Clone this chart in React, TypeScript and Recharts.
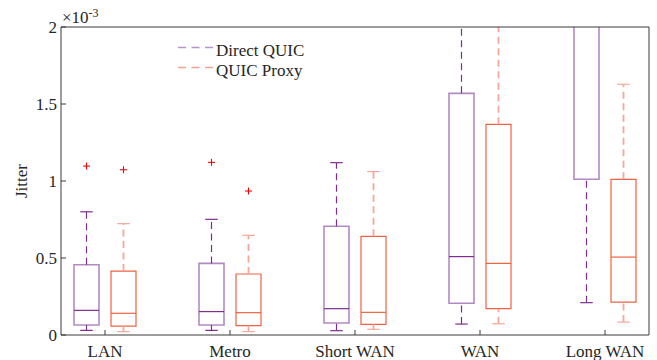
import React from 'react';
import {
  ComposedChart,
  XAxis,
  YAxis,
  Scatter,
  ReferenceArea,
  ReferenceLine,
  Legend,
} from 'recharts';

// Categories (network scenarios)
const categories = ['LAN', 'Metro', 'Short WAN', 'WAN', 'Long WAN'];

// Jitter box statistics, in units of 10^-3
const directLower = [0.03, 0.03, 0.028, 0.071, 0.21];
const directQ1 = [0.065, 0.065, 0.078, 0.206, 1.011];
const directMedian = [0.16, 0.152, 0.171, 0.509, 2.35];
const directQ3 = [0.456, 0.465, 0.706, 1.569, 2.7];
const directUpper = [0.8, 0.751, 1.119, 2.9, 3.4];

const proxyLower = [0.022, 0.022, 0.037, 0.073, 0.084];
const proxyQ1 = [0.058, 0.061, 0.069, 0.171, 0.214];
const proxyMedian = [0.141, 0.145, 0.147, 0.465, 0.506];
const proxyQ3 = [0.415, 0.396, 0.641, 1.368, 1.011];
const proxyUpper = [0.723, 0.647, 1.061, 2.6, 1.628];

const directOutliers: number[][] = [[1.097], [1.121], [], [], []];
const proxyOutliers: number[][] = [[1.073], [0.935], [], [], []];

const yTicks = [0, 0.5, 1, 1.5, 2];
const xTicks = [1, 2, 3, 4, 5];

const SERIES_DIRECT = 'Direct QUIC';
const SERIES_PROXY = 'QUIC Proxy';

// layout constants
const X_DOMAIN: [number, number] = [0.648, 5.352];
const GROUP_OFFSET = 0.148;
const BOX_HALF = 0.1;
const CAP_HALF = 0.05;

const FONT = "'Liberation Serif', serif";
const TEXT_COLOR = '#262626';
const AXIS_COLOR = '#3a3a3a';

const DIRECT_DARK = '#7E2F8E';
const DIRECT_BOX = '#B28AC2';
const PROXY_BOX = '#EE6242';
const PROXY_WHISK = '#F6A797';
const OUTLIER = '#FF0000';

const legendColors: Record<string, string> = {
  [SERIES_DIRECT]: '#B893C8',
  [SERIES_PROXY]: '#F7A290',
};

interface Stats {
  lower: number[];
  q1: number[];
  median: number[];
  q3: number[];
  upper: number[];
}

interface BoxStyle {
  box: string;
  boxWidth: number;
  median: string;
  whisker: string;
  whiskerWidth: number;
  cap: string;
  dash: string;
}

function boxElements(prefix: string, offset: number, s: Stats, st: BoxStyle) {
  const els: React.ReactNode[] = [];
  categories.forEach((_, i) => {
    const c = i + 1 + offset;
    els.push(
      <ReferenceLine
        key={`${prefix}-lw-${i}`}
        segment={[{ x: c, y: s.lower[i] }, { x: c, y: s.q1[i] }]}
        stroke={st.whisker}
        strokeWidth={st.whiskerWidth}
        strokeDasharray={st.dash}
        ifOverflow="hidden"
      />,
      <ReferenceLine
        key={`${prefix}-uw-${i}`}
        segment={[{ x: c, y: s.q3[i] }, { x: c, y: s.upper[i] }]}
        stroke={st.whisker}
        strokeWidth={st.whiskerWidth}
        strokeDasharray={st.dash}
        ifOverflow="hidden"
      />,
      <ReferenceLine
        key={`${prefix}-lc-${i}`}
        segment={[{ x: c - CAP_HALF, y: s.lower[i] }, { x: c + CAP_HALF, y: s.lower[i] }]}
        stroke={st.cap}
        strokeWidth={1.2}
        ifOverflow="hidden"
      />,
      <ReferenceLine
        key={`${prefix}-uc-${i}`}
        segment={[{ x: c - CAP_HALF, y: s.upper[i] }, { x: c + CAP_HALF, y: s.upper[i] }]}
        stroke={st.cap}
        strokeWidth={1.2}
        ifOverflow="hidden"
      />,
      <ReferenceArea
        key={`${prefix}-box-${i}`}
        x1={c - BOX_HALF}
        x2={c + BOX_HALF}
        y1={s.q1[i]}
        y2={s.q3[i]}
        fill="none"
        fillOpacity={0}
        stroke={st.box}
        strokeWidth={st.boxWidth}
        ifOverflow="hidden"
      />,
      <ReferenceLine
        key={`${prefix}-med-${i}`}
        segment={[{ x: c - BOX_HALF, y: s.median[i] }, { x: c + BOX_HALF, y: s.median[i] }]}
        stroke={st.median}
        strokeWidth={1.2}
        ifOverflow="hidden"
      />
    );
  });
  return els;
}

const directPoints = directOutliers.flatMap((vals, i) =>
  vals.map((v) => ({ x: i + 1 - GROUP_OFFSET, y: v }))
);
const proxyPoints = proxyOutliers.flatMap((vals, i) =>
  vals.map((v) => ({ x: i + 1 + GROUP_OFFSET, y: v }))
);

const PlusShape = (props: any) => {
  const { cx, cy } = props;
  if (cx == null || cy == null) return null;
  const h = 3.5;
  return (
    <g>
      <line x1={cx - h} x2={cx + h} y1={cy} y2={cy} stroke={OUTLIER} strokeWidth={1.1} />
      <line x1={cx} x2={cx} y1={cy - h} y2={cy + h} stroke={OUTLIER} strokeWidth={1.1} />
    </g>
  );
};

const renderLegend = (props: any) => {
  const payload: any[] = props?.payload ?? [];
  return (
    <svg width={150} height={52} style={{ display: 'block', overflow: 'visible' }}>
      {payload.map((entry, i) => (
        <g key={String(entry.value)}>
          <line
            x1={8}
            x2={43}
            y1={15.5 + i * 20}
            y2={15.5 + i * 20}
            stroke={legendColors[entry.value] ?? entry.color}
            strokeWidth={1.5}
            strokeDasharray="8 5.5"
          />
          <text
            x={46}
            y={23.5 + i * 20}
            fontSize={17}
            style={{ fontFamily: FONT }}
            fill={TEXT_COLOR}
          >
            {entry.value}
          </text>
        </g>
      ))}
    </svg>
  );
};

const JitterLabel = (props: any) => {
  const vb = props?.viewBox ?? { x: 0, y: 27, width: 61, height: 308 };
  const x = vb.x + 27;
  const y = vb.y + vb.height / 2;
  return (
    <text
      x={x}
      y={y}
      transform={`rotate(-90, ${x}, ${y})`}
      textAnchor="middle"
      fontSize={17}
      style={{ fontFamily: FONT }}
      fill={TEXT_COLOR}
    >
      Jitter
    </text>
  );
};

const ExponentLabel = (props: any) => {
  const vb = props?.viewBox ?? { x: 61, y: 26 };
  return (
    <text x={vb.x + 1} y={vb.y - 3} fontSize={17} style={{ fontFamily: FONT }} fill={TEXT_COLOR}>
      ×10
      <tspan dy={-6.5} fontSize={12}>
        -3
      </tspan>
    </text>
  );
};

export default function App() {
  const tickStyle = { fontSize: 17, fontFamily: FONT, fill: TEXT_COLOR, style: { fontFamily: FONT } };
  return (
    <div style={{ position: 'absolute', left: 0, top: 0, background: '#fff', fontFamily: FONT }}>
      <ComposedChart
        width={657}
        height={360}
        margin={{ top: 26, right: 7, left: 0, bottom: 0 }}
        style={{ fontFamily: FONT }}
      >
        <XAxis
          type="number"
          dataKey="x"
          domain={X_DOMAIN}
          ticks={xTicks}
          interval={0}
          allowDataOverflow
          tickFormatter={(v: number) => categories[Math.round(v) - 1] ?? ''}
          height={25}
          tickSize={-5}
          tickMargin={15}
          tick={tickStyle}
          stroke={AXIS_COLOR}
        />
        <XAxis
          xAxisId="top"
          orientation="top"
          type="number"
          domain={X_DOMAIN}
          ticks={xTicks}
          interval={0}
          allowDataOverflow
          height={1}
          tick={false}
          tickSize={-5}
          stroke={AXIS_COLOR}
          label={{ content: ExponentLabel }}
        />
        <YAxis
          type="number"
          dataKey="y"
          domain={[0, 2]}
          ticks={yTicks}
          interval={0}
          allowDataOverflow
          width={61}
          tickSize={-5}
          tickMargin={9}
          tick={tickStyle}
          stroke={AXIS_COLOR}
          label={{ content: JitterLabel }}
        />
        <YAxis
          yAxisId="right"
          orientation="right"
          type="number"
          domain={[0, 2]}
          ticks={yTicks}
          interval={0}
          allowDataOverflow
          width={1}
          tick={false}
          tickSize={-5}
          stroke={AXIS_COLOR}
        />

        {boxElements(
          'd',
          -GROUP_OFFSET,
          { lower: directLower, q1: directQ1, median: directMedian, q3: directQ3, upper: directUpper },
          {
            box: DIRECT_BOX,
            boxWidth: 1.6,
            median: DIRECT_DARK,
            whisker: DIRECT_DARK,
            whiskerWidth: 1.2,
            cap: DIRECT_DARK,
            dash: '7 4.5',
          }
        )}
        {boxElements(
          'p',
          GROUP_OFFSET,
          { lower: proxyLower, q1: proxyQ1, median: proxyMedian, q3: proxyQ3, upper: proxyUpper },
          {
            box: PROXY_BOX,
            boxWidth: 1.2,
            median: PROXY_BOX,
            whisker: PROXY_WHISK,
            whiskerWidth: 1.8,
            cap: PROXY_WHISK,
            dash: '7 4.5',
          }
        )}

        <Scatter
          name={SERIES_DIRECT}
          data={directPoints}
          shape={PlusShape}
          fill={OUTLIER}
          isAnimationActive={false}
        />
        <Scatter
          name={SERIES_PROXY}
          data={proxyPoints}
          shape={PlusShape}
          fill={OUTLIER}
          isAnimationActive={false}
        />
        <Legend
          layout="vertical"
          align="center"
          verticalAlign="middle"
          content={renderLegend}
          wrapperStyle={{ left: 170, top: 32, width: 150, height: 52 }}
        />
      </ComposedChart>
    </div>
  );
}
